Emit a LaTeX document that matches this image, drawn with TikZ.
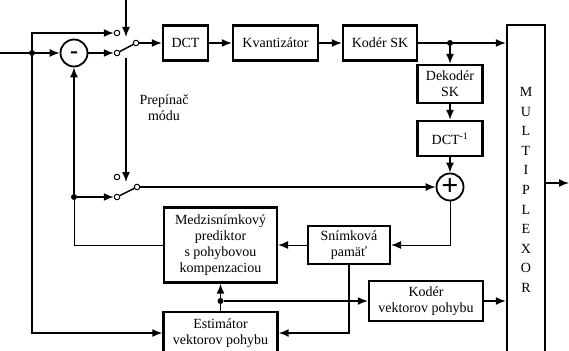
\documentclass[tikz,border=0pt]{standalone}
\usepackage{fontspec}
\setmainfont{Liberation Serif}
\usetikzlibrary{arrows.meta}
\pgfdeclarelayer{edgelayer}
\pgfdeclarelayer{nodelayer}
\pgfsetlayers{edgelayer,nodelayer,main}
\tikzstyle{none}=[inner sep=0pt,align=center,font=\fontsize{14}{16}\selectfont]
\tikzstyle{block}=[rectangle,draw=black,fill=white,line width=2.4pt,align=center,inner sep=0pt,font=\fontsize{14}{16}\selectfont]
\tikzstyle{sum}=[circle,draw=black,fill=white,line width=1.8pt,minimum size=27pt,inner sep=0pt]
\tikzstyle{contact}=[circle,draw=black,fill=white,line width=1pt,minimum size=5.5pt,inner sep=0pt]
\tikzstyle{dot}=[circle,fill=black,minimum size=6pt,inner sep=0pt]
\tikzstyle{wire}=[-{Latex[length=10pt,width=8pt]},draw=black,line width=1.5pt]
\tikzstyle{thinwire}=[-{Latex[length=10pt,width=8pt]},draw=black,line width=0.9pt]

\begin{document}
\begin{tikzpicture}[x=1pt,y=1pt]
	\useasboundingbox (0,0) rectangle (569,-350);
	\begin{pgfonlayer}{nodelayer}
		\node [style=contact] (0) at (117, -33) {};
		\node [style=contact] (1) at (117, -53) {};
		\node [style=contact] (2) at (136, -43) {};
		\node [style=contact] (3) at (117, -177) {};
		\node [style=contact] (4) at (117, -197) {};
		\node [style=contact] (5) at (137, -187) {};
		\node [style=sum] (6) at (74, -53) {\fontsize{24}{24}\selectfont\bfseries\smash{\raisebox{-5.5pt}{-}}};
		\node [style=sum] (7) at (450, -187) {\fontsize{30}{30}\selectfont\bfseries +};
		\node [style=block, minimum width=45pt, minimum height=35pt] (8) at (185.5, -43) {DCT};
		\node [style=block, minimum width=85pt, minimum height=35pt] (9) at (275.5, -43) {Kvantizátor};
		\node [style=block, minimum width=74pt, minimum height=35pt] (10) at (380, -43) {Kodér SK};
		\node [style=block, minimum width=65pt, minimum height=38pt] (11) at (450, -84) {Dekodér\\SK};
		\node [style=block, minimum width=65pt, minimum height=35pt] (12) at (450, -138.5) {DCT\textsuperscript{-1}};
		\node [style=block, minimum width=113pt, minimum height=75pt] (13) at (220.5, -245) {Medzisnímkový\\prediktor\\s pohybovou\\kompenzaciou};
		\node [style=block, minimum width=82pt, minimum height=38pt] (14) at (349, -245) {Snímková\\pamäť};
		\node [style=block, minimum width=114pt, minimum height=42pt] (15) at (220.5, -333) {Estimátor\\vektorov pohybu};
		\node [style=block, minimum width=114pt, minimum height=40pt] (16) at (426, -301) {Kodér\\vektorov pohybu};
		\node [style=block, minimum width=38pt, minimum height=330pt, font=\fontsize{14}{19.6}\selectfont] (17) at (526, -190) {M\\U\\L\\T\\I\\P\\L\\E\\X\\O\\R};
		\node [style=none] (18) at (164, -108) {Prepínač\\módu};
		\node [style=dot] (19) at (32, -53) {};
		\node [style=dot] (20) at (450, -43) {};
		\node [style=dot] (21) at (74, -197) {};
		\node [style=dot] (22) at (220.5, -301) {};
		\coordinate (23) at (0, -53);
		\coordinate (24) at (569, -183);
		\coordinate (25) at (126, 0);
		\coordinate (26) at (126, -37);
		\coordinate (27) at (126, -58);
		\coordinate (28) at (126, -182);
	\end{pgfonlayer}
	\begin{pgfonlayer}{edgelayer}
		\draw [style=wire] (23) to (6);
		\draw [style=wire] (19) |- (0);
		\draw [style=wire] (6) to (1);
		\draw [line width=1.5pt] (1) to (2);
		\draw [style=wire] (2) to (8);
		\draw [style=wire] (8) to (9);
		\draw [style=wire] (9) to (10);
		\draw [style=wire] (10) to (10 -| 17.west);
		\draw [style=wire] (20) to (11);
		\draw [style=wire] (11) to (12);
		\draw [style=wire] (12) to (7);
		\draw [line width=1.5pt] (4) to (5);
		\draw [style=wire] (5) to (7);
		\draw [style=thinwire] (7) |- (14);
		\draw [style=thinwire] (14) to (13);
		\draw [line width=0.9pt] (13) -| (21);
		\draw [style=wire] (21) to (6);
		\draw [style=wire] (21) to (4);
		\draw [style=wire] (19) |- (15);
		\draw [style=wire] (14) |- (15);
		\draw [style=wire] (15) to (13);
		\draw [style=wire] (22) to (16);
		\draw [style=wire] (16) to (16 -| 17.west);
		\draw [style=wire] (17.east |- 24) to (24);
		\draw [style=wire] (25) to (26);
		\draw [style=wire] (27) to (28);
	\end{pgfonlayer}
\end{tikzpicture}
\end{document}
